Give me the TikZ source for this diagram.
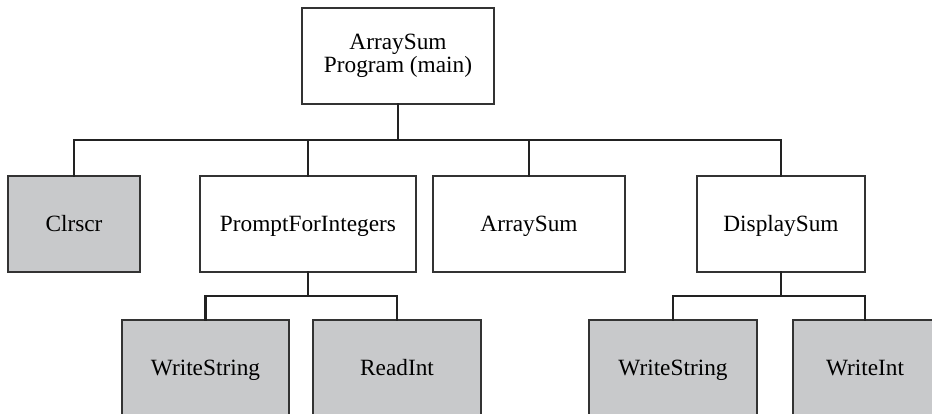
\documentclass[tikz,border=0pt]{standalone}
\usepackage{fontspec}
\setmainfont{Liberation Serif}
\definecolor{boxgray}{HTML}{C8C9CB}
\definecolor{edgec}{HTML}{333333}
\definecolor{connc}{HTML}{222222}
\begin{document}
\begin{tikzpicture}[x=1pt,y=-1pt,
  modbox/.style={draw=edgec, line width=1.1pt, fill=white, outer sep=0pt, inner sep=0pt,
    minimum height=96pt, align=center, font=\fontsize{23.3}{23}\selectfont},
  onebox/.style={modbox, text height=18pt, text depth=4pt},
  libbox/.style={onebox, fill=boxgray},
  conn/.style={draw=connc, line width=2.8pt, line cap=rect}]
\clip (0,0) rectangle (932,413);
\fill[white] (0,0) rectangle (932,413);
\node[modbox, minimum width=192pt] (top) at (398,56) {ArraySum\\Program (main)};
\node[libbox, minimum width=132pt] (clr) at (74,224) {Clrscr};
\node[onebox, minimum width=216pt] (pfi) at (308,224) {PromptForIntegers};
\node[onebox, minimum width=192pt] (asum) at (529,224) {ArraySum};
\node[onebox, minimum width=168pt] (dsp) at (781,224) {DisplaySum};
\node[libbox, minimum width=167pt] (ws1) at (205.5,368) {WriteString};
\node[libbox, minimum width=168pt] (rdi) at (397,368) {ReadInt};
\node[libbox, minimum width=168pt] (ws2) at (673,368) {WriteString};
\node[libbox, minimum width=144pt] (wri) at (865,368) {WriteInt};
\coordinate (bus) at (0,140);
\coordinate (busp) at (0,296);
\coordinate (busd) at (0,296);
% top level connectors
\draw[conn] (top.south) -- (top.south |- bus);
\draw[conn] (clr.north) -- (clr.north |- bus) -- (dsp.north |- bus) -- (dsp.north);
\draw[conn] (pfi.north) -- (pfi.north |- bus);
\draw[conn] (asum.north) -- (asum.north |- bus);
% PromptForIntegers children
\draw[conn] (pfi.south) -- (pfi.south |- busp);
\draw[conn] (ws1.north) -- (ws1.north |- busp) -- (rdi.north |- busp) -- (rdi.north);
% DisplaySum children
\draw[conn] (dsp.south) -- (dsp.south |- busd);
\draw[conn] (ws2.north) -- (ws2.north |- busd) -- (wri.north |- busd) -- (wri.north);
\end{tikzpicture}
\end{document}
